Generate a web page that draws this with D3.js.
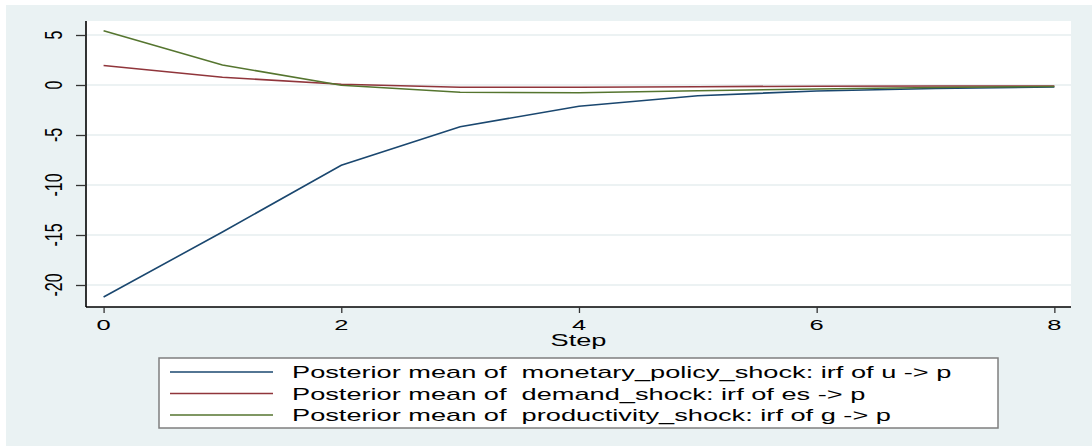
<!DOCTYPE html>
<html>
<head>
<meta charset="utf-8">
<script src="https://cdn.jsdelivr.net/npm/d3@7"></script>
<style>
  html, body { margin: 0; padding: 0; background: #ffffff; }
  svg { display: block; }
  text { font-family: "Liberation Sans", Arial, sans-serif; fill: #000; white-space: pre; }
</style>
</head>
<body>
<svg id="chart" width="1092" height="446"></svg>
<script>
// Impulse responses of p, posterior means by horizon
const steps = [0, 1, 2, 3, 4, 5, 6, 7, 8];
const monetaryPolicy = [-21.2, -14.7, -8.03, -4.17, -2.13, -1.07, -0.6, -0.35, -0.2];
const demand = [1.95, 0.77, 0.07, -0.23, -0.23, -0.17, -0.12, -0.1, -0.1];
const productivity = [5.43, 2.0, -0.03, -0.73, -0.77, -0.57, -0.4, -0.25, -0.15];

const xTicks = [0, 2, 4, 6, 8];
const yTicks = [5, 0, -5, -10, -15, -20];
const seriesNames = [
  "Posterior mean of  monetary_policy_shock: irf of u -> p",
  "Posterior mean of  demand_shock: irf of es -> p",
  "Posterior mean of  productivity_shock: irf of g -> p"
];
const seriesColors = ["#1a476f", "#90353b", "#55752f"];
const seriesValues = [monetaryPolicy, demand, productivity];

const W = 1092, H = 446;
const plot = { left: 86, right: 1071, top: 21, bottom: 307 };
const sx = 1.7; // horizontal text stretch

const svg = d3.select("#chart");

// page background: white edge, bluish-gray graph region
svg.append("rect").attr("width", W).attr("height", H).attr("fill", "#ffffff");
svg.append("rect").attr("x", 6).attr("y", 5).attr("width", W - 6).attr("height", H - 5).attr("fill", "#eaf2f3");
svg.append("rect")
  .attr("x", plot.left).attr("y", plot.top)
  .attr("width", plot.right - plot.left).attr("height", plot.bottom - plot.top)
  .attr("fill", "#ffffff");

const x = d3.scaleLinear().domain([-0.148, 8.14]).range([plot.left, plot.right]);
const y = d3.scaleLinear().domain([-22.2, 6.4]).range([plot.bottom, plot.top]);

// horizontal grid lines
svg.append("g").selectAll("line").data(yTicks).join("line")
  .attr("x1", plot.left).attr("x2", plot.right)
  .attr("y1", d => y(d)).attr("y2", d => y(d))
  .attr("stroke", "#e6eeef").attr("stroke-width", 1.5);

// series lines
const line = d3.line().x((d, i) => x(steps[i])).y(d => y(d));
svg.append("g").selectAll("path").data(seriesValues).join("path")
  .attr("d", d => line(d))
  .attr("fill", "none")
  .attr("stroke", (d, i) => seriesColors[i])
  .attr("stroke-width", 1.6);

// y axis
const yAxis = d3.axisLeft(y).tickValues(yTicks).tickSize(10).tickFormat("");
const gy = svg.append("g").attr("transform", `translate(${plot.left},0)`).call(yAxis);
gy.select(".domain").attr("d", `M0,${plot.top}V${plot.bottom}`).attr("stroke", "#000").attr("stroke-width", 1.6);
gy.selectAll(".tick line").attr("stroke", "#333").attr("stroke-width", 1.3);

svg.append("g").selectAll("text").data(yTicks).join("text")
  .attr("transform", d => `translate(62,${y(d)}) scale(${sx * 0.88},1) rotate(-90)`)
  .attr("text-anchor", "middle")
  .attr("font-size", 16)
  .text(d => d3.format("d")(d).replace("−", "-"));

// x axis
const xAxis = d3.axisBottom(x).tickValues(xTicks).tickSize(6).tickFormat("");
const gx = svg.append("g").attr("transform", `translate(0,${plot.bottom})`).call(xAxis);
gx.select(".domain").attr("d", `M${plot.left},0H${plot.right}`).attr("stroke", "#000").attr("stroke-width", 1.6);
gx.selectAll(".tick line").attr("stroke", "#333").attr("stroke-width", 1.3);

svg.append("g").selectAll("text").data(xTicks).join("text")
  .attr("transform", d => `translate(${x(d)},330) scale(${sx},1)`)
  .attr("text-anchor", "middle")
  .attr("font-size", 15)
  .text(d => d);

svg.append("text")
  .attr("transform", `translate(${(plot.left + plot.right) / 2},346) scale(${sx},1)`)
  .attr("text-anchor", "middle")
  .attr("font-size", 16)
  .text("Step");

// legend
const legend = svg.append("g");
legend.append("rect")
  .attr("x", 159).attr("y", 358).attr("width", 839).attr("height", 70)
  .attr("fill", "#ffffff").attr("stroke", "#7f7f7f").attr("stroke-width", 1.5);
const rows = legend.selectAll("g.row").data(seriesNames).join("g")
  .attr("class", "row")
  .attr("transform", (d, i) => `translate(0,${372 + i * 21.5})`);
rows.append("line")
  .attr("x1", 170).attr("x2", 273).attr("y1", 0).attr("y2", 0)
  .attr("stroke", (d, i) => seriesColors[i]).attr("stroke-width", 1.6);
rows.append("text")
  .attr("transform", `translate(292,6) scale(${sx},1)`)
  .attr("font-size", 16)
  .text(d => d);
</script>
</body>
</html>
